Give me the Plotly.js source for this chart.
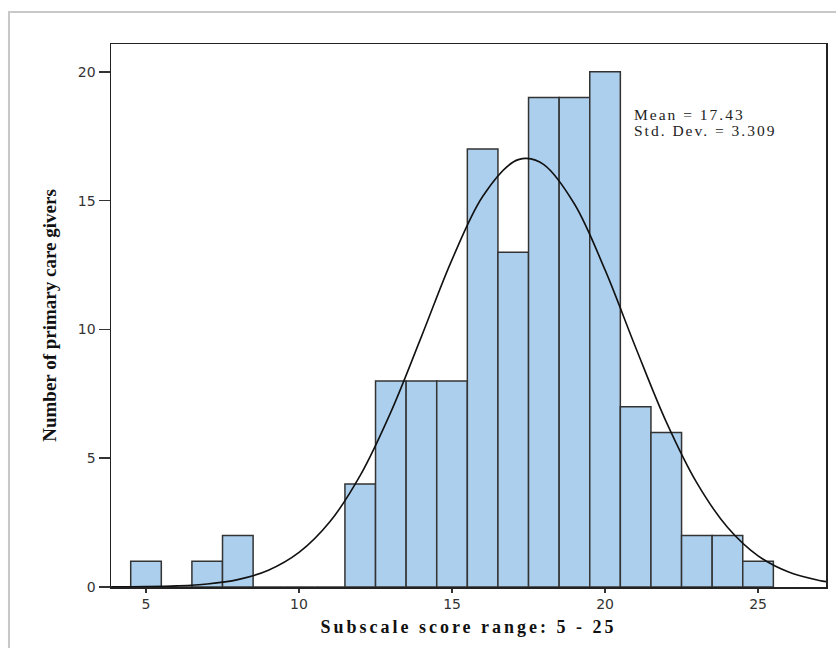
<!DOCTYPE html>
<html>
<head>
<meta charset="utf-8">
<script src="https://cdn.plot.ly/plotly-3.0.1.min.js"></script>
<style>
  html, body { margin: 0; padding: 0; background: #fff; }
  .xtitle { letter-spacing: 3px; }
  .annotation-text { letter-spacing: 2px; }
</style>
</head>
<body>
<div id="chart" style="width:836px;height:648px;"></div>
<script>
// Histogram bins (score) and counts
const scores = [5, 6, 7, 8, 9, 10, 11, 12, 13, 14, 15, 16, 17, 18, 19, 20, 21, 22, 23, 24, 25];
const counts = [1, 0, 1, 2, 0, 0, 0, 4, 8, 8, 8, 17, 13, 19, 19, 20, 7, 6, 2, 2, 1];

// Normal curve
const curveX = [3.86, 5, 6, 7, 8, 9, 10, 11, 12, 13, 14, 15, 16, 17, 17.43, 18, 19, 20, 21, 22, 23, 24, 25, 26, 27, 27.22];
const curveY = [0.004, 0.014, 0.043, 0.116, 0.287, 0.65, 1.34, 2.52, 4.33, 6.79, 9.72, 12.71, 15.16, 16.50, 16.64, 16.40, 14.87, 12.31, 9.30, 6.41, 4.04, 2.32, 1.21, 0.58, 0.254, 0.21];

const xTicks = [5, 10, 15, 20, 25];
const yTicks = [0, 5, 10, 15, 20];

const statsLines = ["Mean = 17.43", "Std. Dev. = 3.309"];
const xTitle = "Subscale score range: 5 - 25";
const yTitle = "Number of primary care givers";

const traces = [
  {
    type: "bar",
    x: scores,
    y: counts,
    width: 1,
    marker: { color: "#accfee", line: { color: "#333333", width: 1.5 } },
    hoverinfo: "x+y"
  },
  {
    type: "scatter",
    mode: "lines",
    x: curveX,
    y: curveY,
    line: { color: "#111111", width: 1.6, shape: "spline", smoothing: 1 },
    hoverinfo: "skip"
  }
];

const statY = [0.8694, 0.8399];

const layout = {
  width: 836,
  height: 648,
  margin: { l: 111, r: 10, t: 44, b: 61 },
  paper_bgcolor: "#ffffff",
  plot_bgcolor: "#ffffff",
  showlegend: false,
  bargap: 0,
  xaxis: {
    range: [3.856, 27.22],
    tickvals: xTicks,
    ticktext: xTicks.map(String),
    ticks: "outside",
    ticklen: 4,
    tickwidth: 1.5,
    tickcolor: "#333",
    showgrid: false,
    zeroline: false,
    showline: true,
    linecolor: "#222",
    linewidth: 1.5,
    mirror: true,
    tickfont: { family: "DejaVu Sans", size: 14, color: "#333" },
    title: {
      text: xTitle,
      font: { family: "Liberation Serif", size: 18, color: "#111", weight: "bold" },
      standoff: 9
    }
  },
  yaxis: {
    range: [0, 21.08],
    tickvals: yTicks,
    ticktext: yTicks.map(String),
    ticks: "outside",
    ticklen: 11,
    tickwidth: 1.5,
    tickcolor: "#333",
    showgrid: false,
    zeroline: false,
    showline: true,
    linecolor: "#222",
    linewidth: 1.5,
    mirror: true,
    tickfont: { family: "DejaVu Sans", size: 14, color: "#333" },
    title: {
      text: yTitle,
      font: { family: "Liberation Serif", size: 19, color: "#111", weight: "bold" },
      standoff: 16
    }
  },
  annotations: statsLines.map((t, i) => ({
    xref: "paper", yref: "paper",
    x: 0.729, y: statY[i],
    xanchor: "left", yanchor: "middle",
    align: "left",
    showarrow: false,
    text: t,
    font: { family: "Liberation Serif", size: 15.5, color: "#222" }
  })),
  shapes: [
    {
      type: "rect", xref: "paper", yref: "paper",
      x0: -0.1427, x1: 1.2, y0: -0.3, y1: 1.0589,
      line: { color: "#c8c8c8", width: 2 },
      fillcolor: "rgba(0,0,0,0)",
      layer: "below"
    }
  ]
};

Plotly.newPlot("chart", traces, layout, { displayModeBar: false, staticPlot: true });
</script>
</body>
</html>
